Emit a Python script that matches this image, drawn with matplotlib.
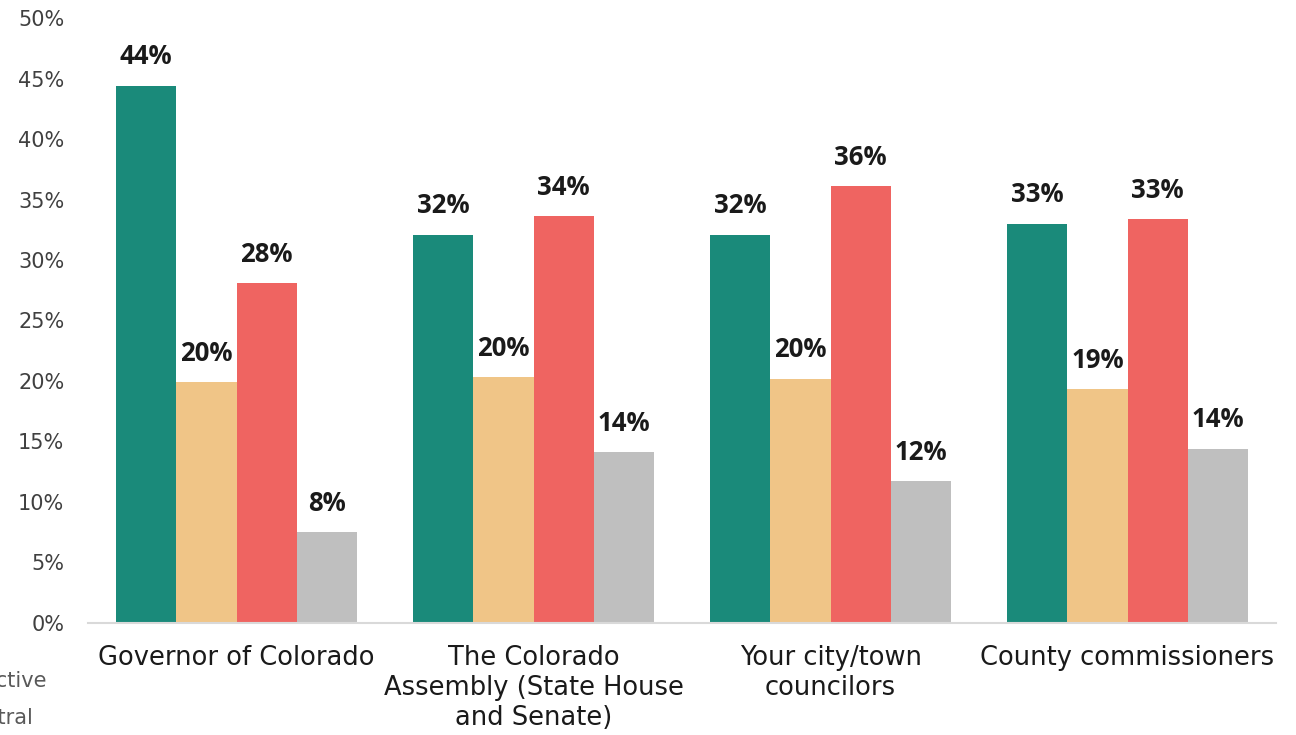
import matplotlib
matplotlib.use("Agg")
import matplotlib.pyplot as plt
import numpy as np

categories = ["Governor of Colorado", "The Colorado\nAssembly (State House\nand Senate)",
              "Your city/town\ncouncilors", "County commissioners"]
series_names = ["Proactive", "Neutral", "Reactive", "Unsure"]
s1 = [44.4, 32.1, 32.1, 33.0]
s2 = [19.9, 20.3, 20.2, 19.3]
s3 = [28.1, 33.6, 36.1, 33.4]
s4 = [7.5, 14.1, 11.7, 14.4]
labels1 = ["44%", "32%", "32%", "33%"]
labels2 = ["20%", "20%", "20%", "19%"]
labels3 = ["28%", "34%", "36%", "33%"]
labels4 = ["8%", "14%", "12%", "14%"]
yticks = [0, 5, 10, 15, 20, 25, 30, 35, 40, 45, 50]

colors = ["#1a8a7a", "#f0c587", "#ef6461", "#bfbfbf"]

fig = plt.figure(figsize=(12.96, 7.35), dpi=100)
ax = fig.add_axes([0.0679, 0.1524, 0.9167, 0.8231])

x = np.arange(len(categories))
w = 0.203
series = [s1, s2, s3, s4]
labs = [labels1, labels2, labels3, labels4]
for i, (s, l, c) in enumerate(zip(series, labs, colors)):
    pos = x + (i - 1.5) * w
    ax.bar(pos, s, width=w, color=c, linewidth=0)
    for px, v, t in zip(pos, s, l):
        ax.annotate(t, (px, v), xytext=(0, 11), textcoords="offset points",
                    ha="center", va="bottom", fontsize=18.5, fontweight="bold",
                    family="Open Sans", color="#1a1a1a")

ax.set_xlim(-0.5, 3.5)
ax.set_ylim(0, 50)
ax.set_yticks(yticks)
ax.set_yticklabels([f"{t}%" for t in yticks], fontsize=15, color="#404040", family="DejaVu Sans")
ax.set_xticks(x)
ax.set_xticklabels(categories, fontsize=18.5, color="#1a1a1a", family="DejaVu Sans", linespacing=1.2)
for sp in ["top", "right", "left"]:
    ax.spines[sp].set_visible(False)
ax.spines["bottom"].set_color("#d9d9d9")
ax.spines["bottom"].set_linewidth(1.5)
ax.tick_params(axis="both", length=0)
ax.tick_params(axis="x", pad=16)
ax.tick_params(axis="y", pad=17)

fig.text(47 / 1296, 1 - 681 / 735, series_names[0], ha="right", va="center",
         fontsize=15, color="#595959")
fig.text(33 / 1296, 1 - 718 / 735, series_names[1], ha="right", va="center",
         fontsize=15, color="#595959")

fig.savefig("out.png", dpi=100)
